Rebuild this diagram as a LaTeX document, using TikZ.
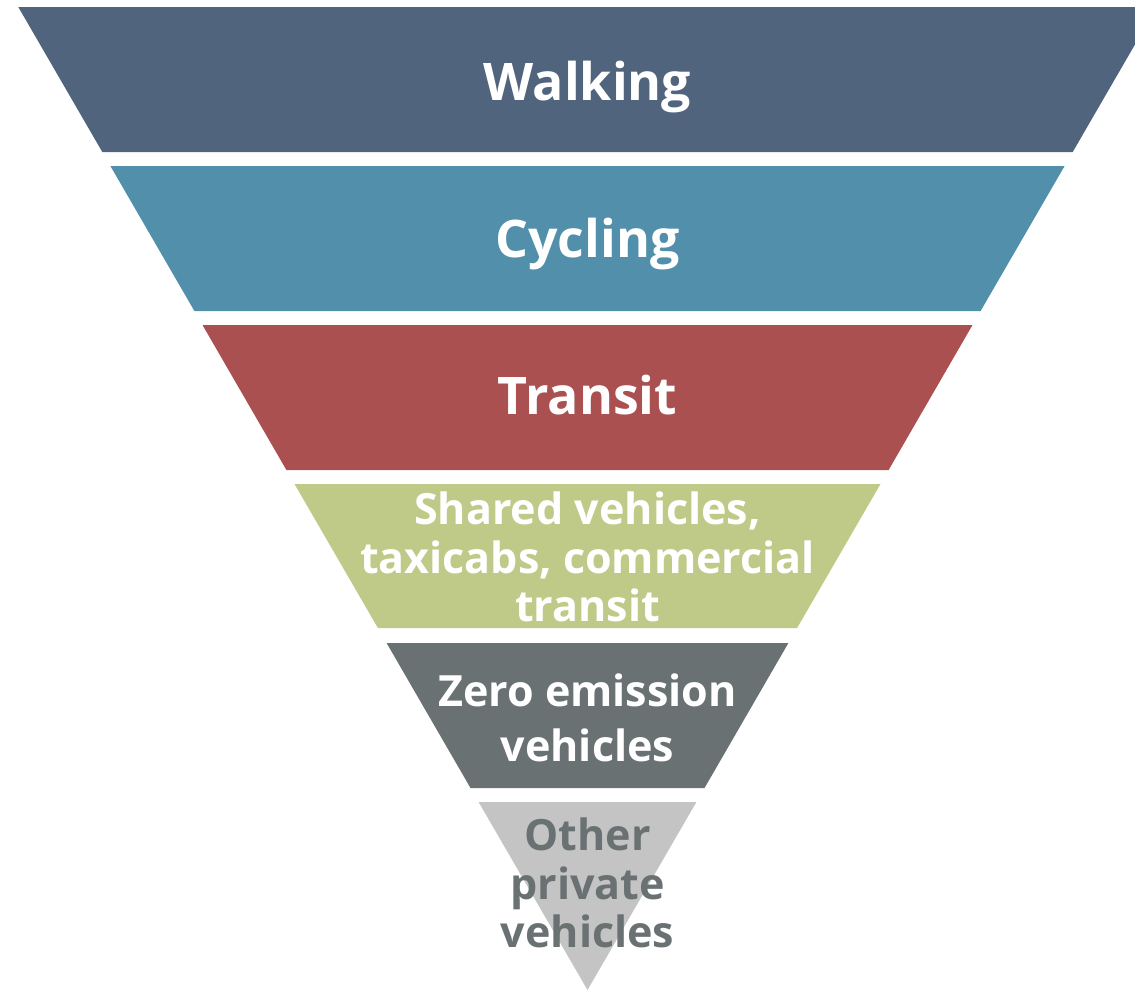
\documentclass[tikz,border=0pt]{standalone}
\usepackage{fontspec}
\setmainfont{Open Sans}
\usepackage{tikz}

\definecolor{walkblue}{RGB}{81,100,125}
\definecolor{cycleblue}{RGB}{82,143,171}
\definecolor{transitred}{RGB}{170,80,80}
\definecolor{sharedgreen}{RGB}{192,202,136}
\definecolor{zerogrey}{RGB}{106,113,115}
\definecolor{othergrey}{RGB}{196,196,196}

\begin{document}
\begin{tikzpicture}[x=0.02cm, y=-0.02cm,
    label/.style={font=\bfseries\fontsize{29.5}{29.5}\selectfont, text=white, align=center, inner sep=0pt},
    smalllabel/.style={label, font=\bfseries\fontsize{24.5}{27.5}\selectfont}]
    \useasboundingbox (0,0) rectangle (1135,991);
    \clip (0,0) rectangle (1135,991);
    \coordinate (A1) at (18.3, 7);   \coordinate (A2) at (1156.7, 7);
    \coordinate (A3) at (1072.7, 152); \coordinate (A4) at (102.3, 152);
    \coordinate (B1) at (110.4, 166); \coordinate (B2) at (1064.6, 166);
    \coordinate (B3) at (980.6, 311); \coordinate (B4) at (194.4, 311);
    \coordinate (C1) at (202.5, 325); \coordinate (C2) at (972.5, 325);
    \coordinate (C3) at (888.6, 470); \coordinate (C4) at (286.4, 470);
    \coordinate (D1) at (294.5, 484); \coordinate (D2) at (880.5, 484);
    \coordinate (D3) at (797.1, 628); \coordinate (D4) at (377.9, 628);
    \coordinate (E1) at (386.6, 643); \coordinate (E2) at (788.4, 643);
    \coordinate (E3) at (704.5, 788); \coordinate (E4) at (470.5, 788);
    \coordinate (F1) at (478.6, 802); \coordinate (F2) at (696.4, 802);
    \coordinate (F3) at (587.5, 990);
    \fill[walkblue] (A1) -- (A2) -- (A3) -- (A4) -- cycle;
    \fill[cycleblue] (B1) -- (B2) -- (B3) -- (B4) -- cycle;
    \fill[transitred] (C1) -- (C2) -- (C3) -- (C4) -- cycle;
    \fill[sharedgreen] (D1) -- (D2) -- (D3) -- (D4) -- cycle;
    \fill[zerogrey] (E1) -- (E2) -- (E3) -- (E4) -- cycle;
    \fill[othergrey] (F1) -- (F2) -- (F3) -- cycle;
    \node[label, anchor=base] (walking) at (587.5, 100) {Walking};
    \node[label, anchor=base] (cycling) at (587.5, 257) {Cycling};
    \node[label, anchor=base] (transit) at (587.5, 414) {Transit};
    \node[smalllabel] (shared) at (587.5, 557) {Shared vehicles,\\taxicabs, commercial\\transit};
    \node[smalllabel] (zero) at (587.5, 718) {Zero emission\\[4pt]vehicles};
    \node[smalllabel, text=zerogrey] (other) at (587.5, 883) {Other\\private\\vehicles};
\end{tikzpicture}
\end{document}
